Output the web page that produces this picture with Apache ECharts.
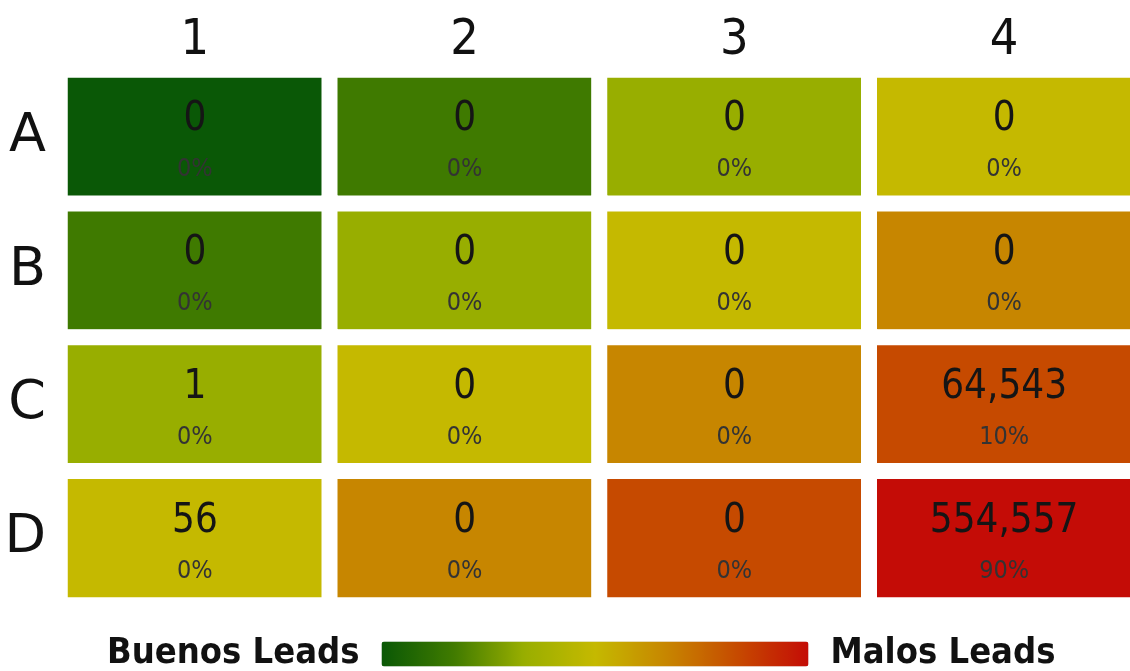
<!DOCTYPE html>
<html>
<head>
<meta charset="utf-8">
<script src="https://cdn.jsdelivr.net/npm/echarts@6/dist/echarts.min.js"></script>
<style>html,body{margin:0;padding:0;background:#fff}#c{width:1130px;height:671px}</style>
</head>
<body>
<div id="c"></div>
<script>
var cols = ['1', '2', '3', '4'];
var rows = ['A', 'B', 'C', 'D'];
var counts = [
  [0, 0, 0, 0],
  [0, 0, 0, 0],
  [1, 0, 0, 64543],
  [56, 0, 0, 554557]
];
var pcts = [
  [0, 0, 0, 0],
  [0, 0, 0, 0],
  [0, 0, 0, 10],
  [0, 0, 0, 90]
];
var levels = [
  [0, 1, 2, 3],
  [1, 2, 3, 4],
  [2, 3, 4, 5],
  [3, 4, 5, 6]
];
var levelColors = ['#0a5806', '#3f7a00', '#98ae00', '#c5b900', '#c78600', '#c64a00', '#c40c06'];
var legendText = ['Malos Leads', 'Buenos Leads'];

var data = [];
for (var r = 0; r < rows.length; r++) {
  for (var c = 0; c < cols.length; c++) {
    data.push([c, r, levels[r][c], counts[r][c], pcts[r][c]]);
  }
}

var chart = echarts.init(document.getElementById('c'));
chart.setOption({
  animation: false,
  backgroundColor: '#fff',
  grid: { left: 60, top: 70, width: 1079, height: 535, outerBoundsMode: 'none', containLabel: false },
  xAxis: {
    type: 'category', data: cols, position: 'top',
    axisLine: { show: false }, axisTick: { show: false }, splitLine: { show: false },
    axisLabel: { fontFamily: 'DejaVu Sans Condensed', fontSize: 50, color: '#111', margin: 4 }
  },
  yAxis: {
    type: 'category', data: rows, inverse: true,
    axisLine: { show: false }, axisTick: { show: false }, splitLine: { show: false },
    axisLabel: { fontFamily: 'DejaVu Sans', fontSize: 54, color: '#111', margin: 14 }
  },
  visualMap: {
    type: 'continuous', min: 0, max: 6, dimension: 2,
    orient: 'horizontal', left: 92, top: 621,
    itemWidth: 25, itemHeight: 427, calculable: false, hoverLink: false,
    text: legendText, textGap: 22,
    textStyle: { fontFamily: 'DejaVu Sans Condensed', fontWeight: 'bold', fontSize: 36, color: '#111' },
    inRange: { color: levelColors }
  },
  series: [{
    type: 'heatmap', data: data,
    itemStyle: { borderColor: '#fff', borderWidth: 16 },
    emphasis: { disabled: true },
    label: {
      show: true, offset: [0, 8],
      formatter: function (p) {
        return '{n|' + p.data[3].toLocaleString('en-US') + '}\n{p|' + p.data[4] + '%}';
      },
      rich: {
        n: { fontFamily: 'DejaVu Sans Condensed', fontSize: 40, color: '#151515', lineHeight: 50 },
        p: { fontFamily: 'DejaVu Sans Condensed', fontSize: 25, color: '#333', lineHeight: 50 }
      }
    }
  }]
});
</script>
</body>
</html>
